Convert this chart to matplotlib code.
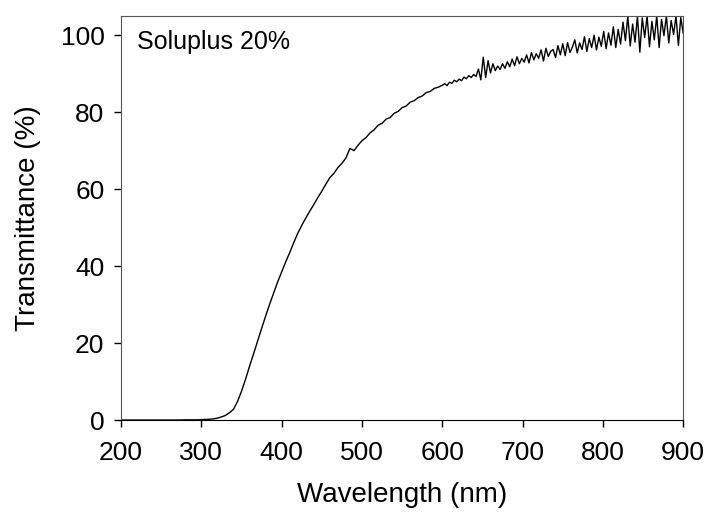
import numpy as np
import matplotlib
matplotlib.use("Agg")
import matplotlib.pyplot as plt

plt.rcParams['font.family'] = ['Liberation Sans', 'DejaVu Sans']

# espectro de transmitancia
wl_smooth = np.arange(200, 600, 5)
t_smooth = [
    0.0, 0.0, 0.0, 0.0, 0.0, 0.0, 0.0, 0.0, 0.0, 0.0,
    0.0, 0.0, 0.0, 0.0, 0.0, 0.0, 0.05, 0.05, 0.05, 0.05,
    0.1, 0.15, 0.2, 0.3, 0.5, 0.8, 1.2, 1.9, 2.8, 4.8,
    7.5, 10.6, 14.0, 17.2, 20.5, 23.8, 27.0, 30.1, 33.0, 35.9,
    38.5, 41.1, 43.5, 46.1, 48.5, 50.6, 52.5, 54.3, 56.0, 57.8,
    59.5, 61.3, 63.0, 64.1, 65.6, 66.7, 68.1, 70.6, 70.0, 71.4,
    72.6, 73.4, 74.6, 75.4, 76.6, 77.1, 78.2, 78.6, 79.7, 80.2,
    81.2, 81.6, 82.6, 83.0, 83.8, 84.2, 85.1, 85.4, 86.2, 86.5,
]

wl_noisy = np.arange(600, 901, 3)
t_noisy = [
    87.0, 87.4, 86.9, 87.8, 87.5, 88.3, 87.9, 88.6, 88.2, 89.1,
    88.7, 89.5, 89.0, 89.8, 89.3, 91.2, 88.4, 94.3, 89.0, 93.4,
    90.2, 92.6, 90.8, 92.0, 91.1, 92.6, 91.4, 93.1, 91.8, 93.8,
    92.1, 94.4, 92.6, 94.0, 93.0, 94.9, 92.8, 95.5, 93.6, 95.2,
    94.0, 96.2, 93.3, 96.6, 94.5, 95.8, 96.3, 94.2, 97.3, 94.9,
    97.8, 94.7, 98.1, 95.5, 96.9, 98.8, 95.4, 98.0, 96.3, 99.6,
    95.8, 99.1, 96.8, 100.0, 96.2, 99.5, 97.1, 101.0, 96.5, 100.6,
    97.4, 102.2, 96.8, 101.5, 97.7, 103.4, 98.6, 105.0, 97.2, 102.9,
    98.2, 105.0, 95.6, 104.5, 99.4, 105.0, 97.0, 103.6, 98.8, 105.0,
    96.8, 104.1, 99.9, 105.0, 98.0, 103.8, 100.2, 105.0, 97.4, 104.6,
    100.5,
]

wl = np.concatenate([wl_smooth, wl_noisy])
trans = np.array(t_smooth + t_noisy)

fig = plt.figure(figsize=(7.08, 5.16), dpi=100)
ax = fig.add_axes([0.171, 0.186, 0.794, 0.783])
ax.plot(wl, trans, color="black", linewidth=1.0)

ax.set_xlim(200, 900)
ax.set_ylim(0, 105)
ax.set_xticks(range(200, 901, 100))
ax.set_yticks(range(0, 101, 20))
ax.tick_params(direction="out", length=5, width=1, labelsize=19)
ax.tick_params(axis="x", pad=10)
ax.tick_params(axis="y", pad=7)
ax.tick_params(top=False, right=False)
for s in ax.spines.values():
    s.set_color("#555555")
ax.spines["bottom"].set_color("black")

ax.set_xlabel("Wavelength (nm)", fontsize=20, labelpad=12)
ax.set_ylabel("Transmittance (%)", fontsize=20, labelpad=14)
ax.text(0.028, 0.965, "Soluplus 20%", transform=ax.transAxes, fontsize=18,
        va="top", ha="left")

fig.savefig("out.png", dpi=100)
